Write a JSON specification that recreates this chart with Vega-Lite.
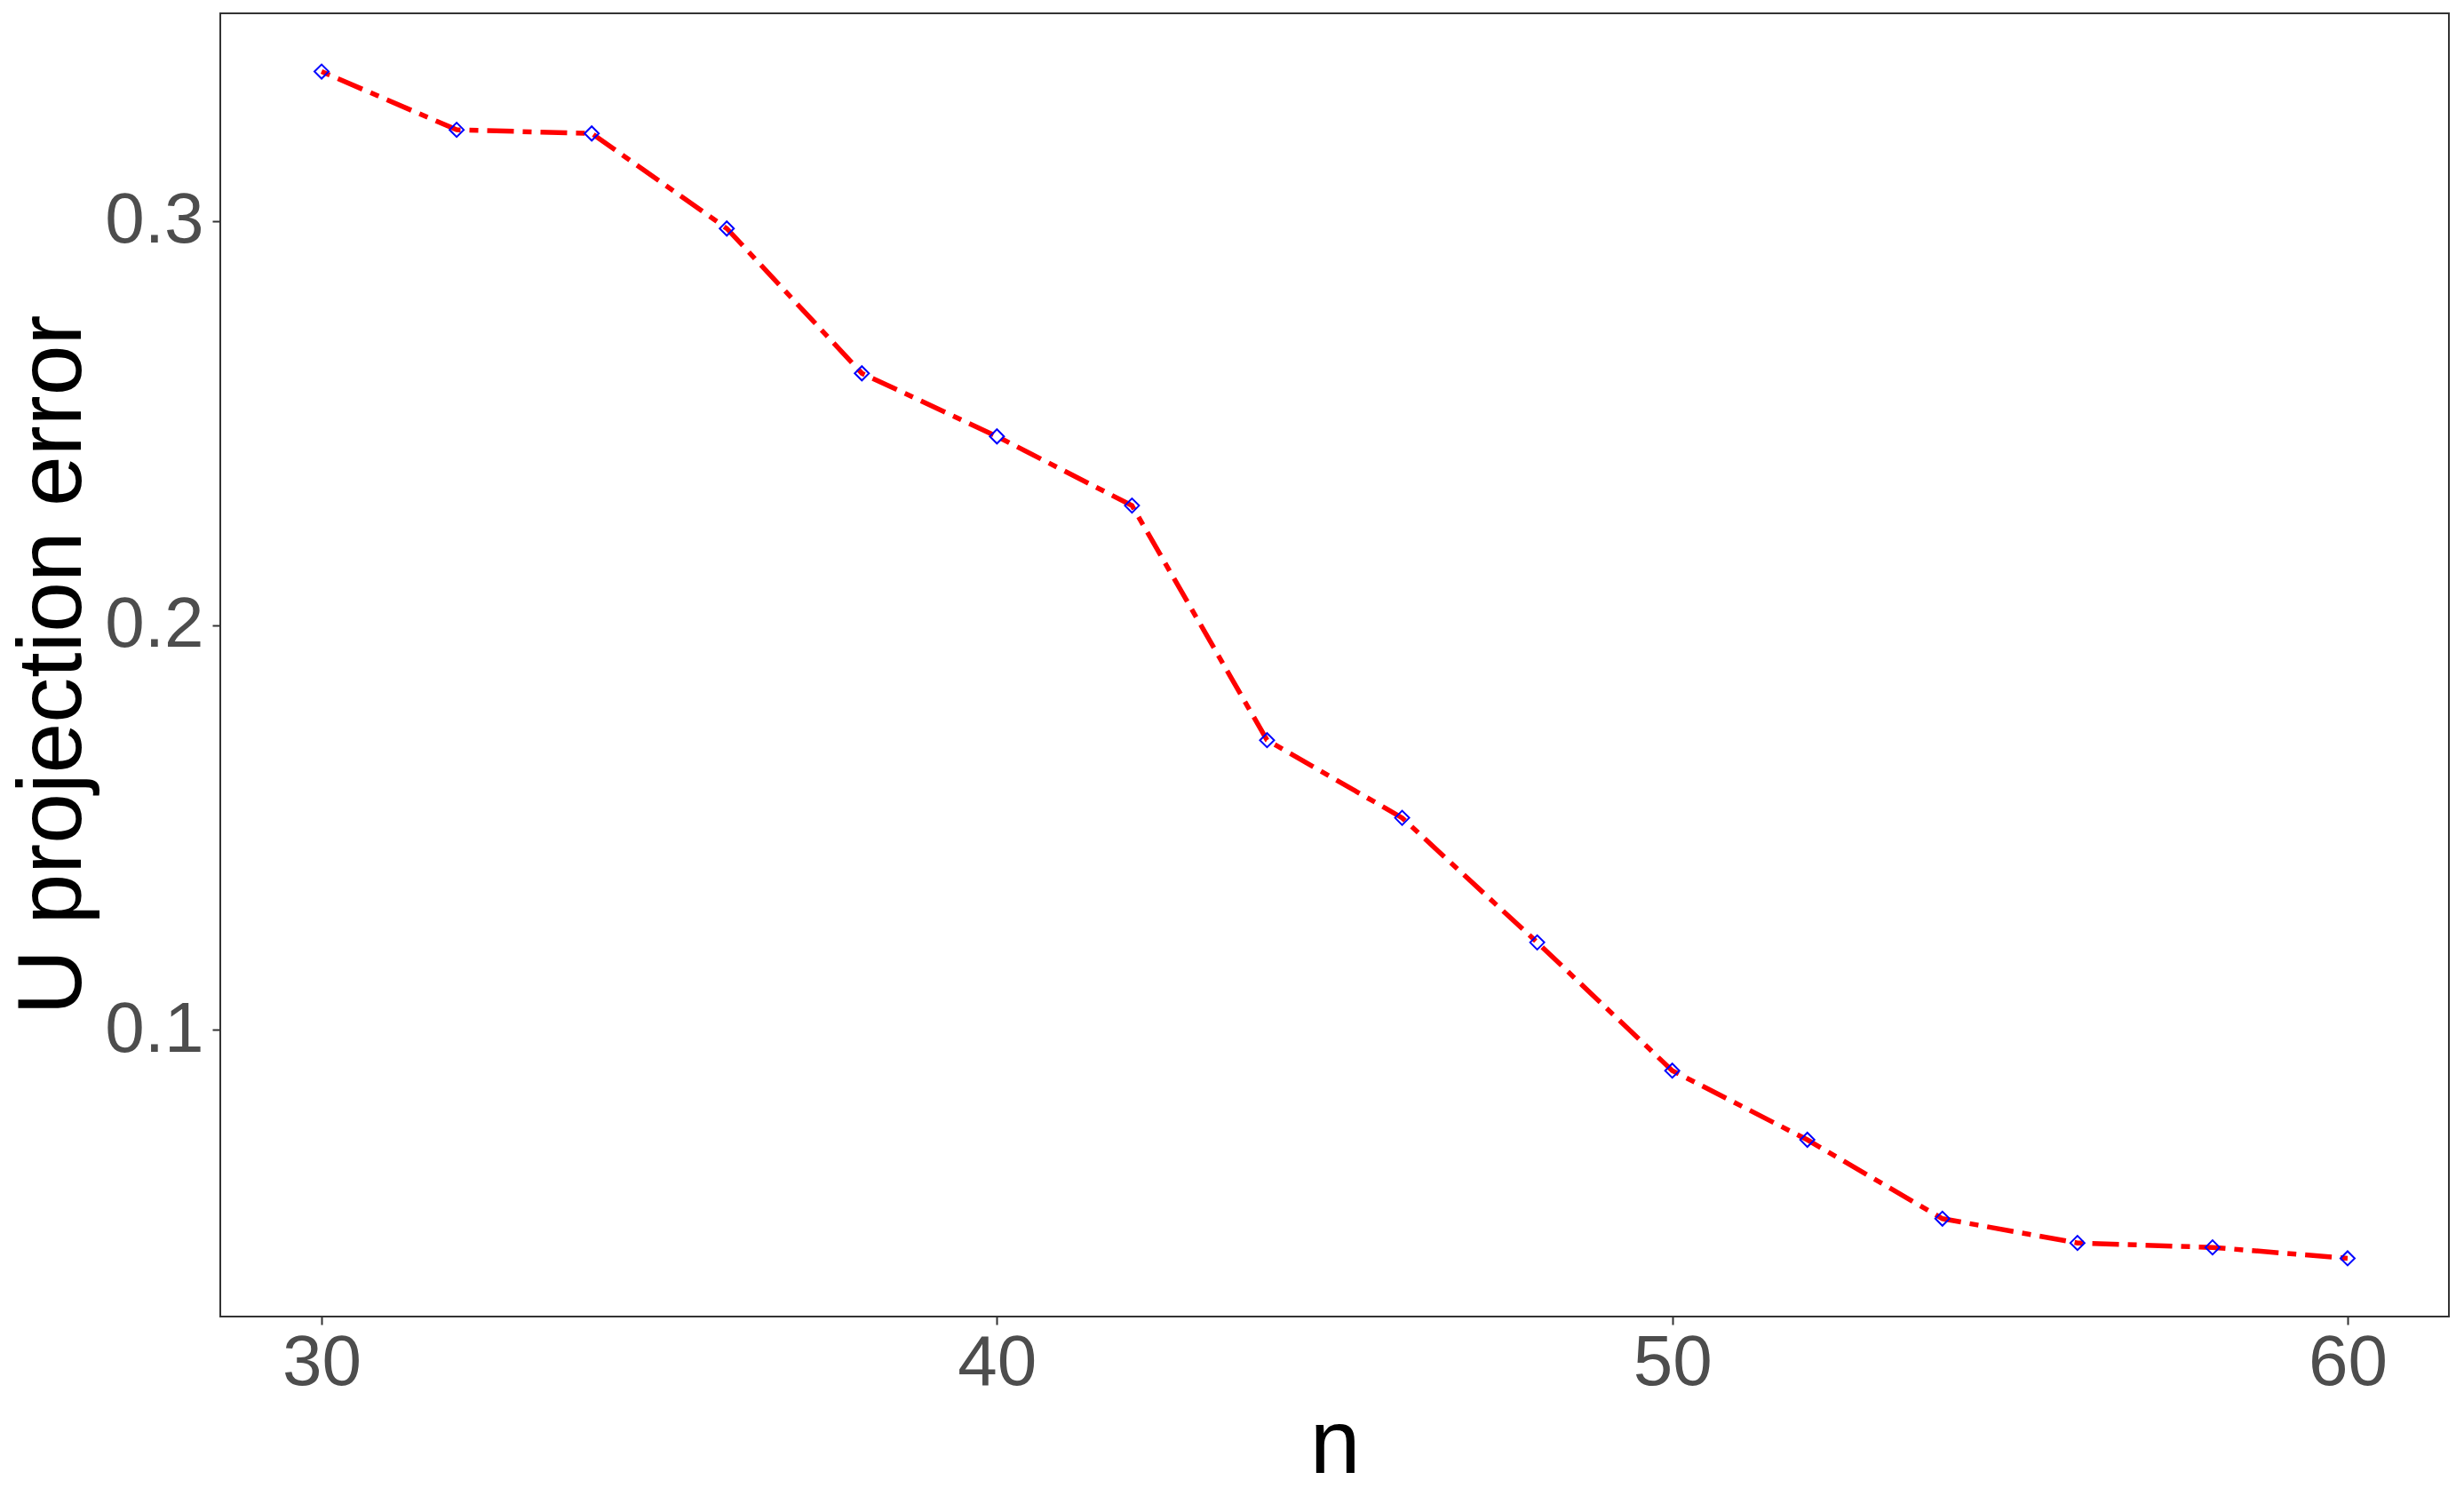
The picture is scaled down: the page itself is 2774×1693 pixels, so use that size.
{
  "$schema": "https://vega.github.io/schema/vega-lite/v6.json",
  "autosize": {"type": "none"},
  "padding": {"left": 248, "top": 15, "right": 17, "bottom": 211},
  "width": 2509,
  "height": 1467,
  "background": "white",
  "config": {
    "view": {"stroke": "#333333", "strokeWidth": 2, "fill": "white"},
    "axis": {
      "grid": false,
      "domain": false,
      "labelFont": "Liberation Sans",
      "labelFontSize": 80,
      "labelColor": "#4D4D4D",
      "tickColor": "#333333",
      "tickWidth": 2,
      "tickSize": 9,
      "titleFont": "Liberation Sans",
      "titleFontSize": 102,
      "titleFontWeight": "normal",
      "titleColor": "#000000"
    }
  },
  "data": {
    "values": [
      {"n": 30, "err": 0.3369},
      {"n": 32, "err": 0.3225},
      {"n": 34, "err": 0.3216},
      {"n": 36, "err": 0.2981},
      {"n": 38, "err": 0.2623},
      {"n": 40, "err": 0.2467},
      {"n": 42, "err": 0.2296},
      {"n": 44, "err": 0.1716},
      {"n": 46, "err": 0.1524},
      {"n": 48, "err": 0.1216},
      {"n": 50, "err": 0.0899},
      {"n": 52, "err": 0.0728},
      {"n": 54, "err": 0.0533},
      {"n": 56, "err": 0.0473},
      {"n": 58, "err": 0.0462},
      {"n": 60, "err": 0.0435}
    ]
  },
  "encoding": {
    "x": {
      "field": "n",
      "type": "quantitative",
      "scale": {"domain": [28.5, 61.5], "nice": false, "zero": false},
      "axis": {
        "values": [30, 40, 50, 60],
        "title": "n",
        "labelPadding": 4,
        "labelFlush": false,
        "titleBaseline": "alphabetic",
        "titleY": 175
      }
    },
    "y": {
      "field": "err",
      "type": "quantitative",
      "scale": {"domain": [0.0291, 0.3513], "nice": false, "zero": false},
      "axis": {
        "values": [0.1, 0.2, 0.3],
        "format": ".1f",
        "title": "U projection error",
        "labelPadding": 10,
        "labelFlush": false,
        "titleAngle": -90,
        "titleBaseline": "alphabetic",
        "titleAlign": "center",
        "titleX": -158,
        "titleY": 733
      }
    }
  },
  "layer": [
    {
      "mark": {"type": "line", "color": "#FF0000", "strokeWidth": 5.5, "strokeDash": [10, 10, 30, 10], "strokeCap": "butt"}
    },
    {
      "mark": {"type": "point", "shape": "diamond", "filled": false, "color": "#0000FF", "strokeWidth": 2, "size": 256, "opacity": 1}
    }
  ]
}
